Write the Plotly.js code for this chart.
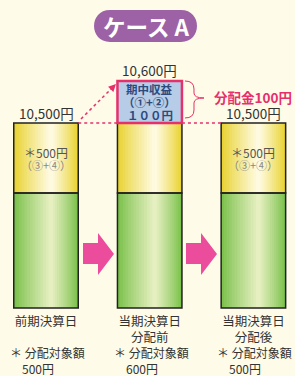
<!DOCTYPE html>
<html><head><meta charset="utf-8">
<script src="https://cdn.plot.ly/plotly-3.0.1.min.js"></script>
<style>html,body{margin:0;padding:0;background:#FEFBE8;}</style>
</head><body><div id="chart" style="width:295px;height:376px;"></div>
<script>
// ---- data ----
const categories = ['前期決算日', '当期決算日<br>分配前', '当期決算日<br>分配後'];
const principal = [10000, 10000, 10000];     // base part of NAV
const distributable = [500, 500, 500];       // ③+④
const income = [0, 100, 0];                  // ①+② 期中収益
const navLabels = ['10,500円', '10,600円', '10,500円'];
const yellowLabel = ['＊500円', '', '＊500円'];
const yellowSub = ['（③+④）', '', '（③+④）'];
const incomeLines = ['期中収益', '（①+②）', '１００円'];
const distributionLabel = '分配金100円';
const targetHead = '＊ 分配対象額';
const targetLabel = ['500円', '600円', '500円'];
const titleText = 'ケース A';

// ---- helpers ----
const xs = categories.map((_, i) => i);
const W = 0.622, N = 14, SHIFT = 0.05;
const FLOOR = 9178.6;   // schematic axis floor (bar bottoms)
const FIG_W = 295, PLOT_H = 312;
const P = (x, y) => (x / FIG_W).toFixed(4) + ',' + ((PLOT_H - y) / PLOT_H).toFixed(4);
function hex(c){return [1,3,5].map(i=>parseInt(c.substr(i,2),16));}
function mix(a,b,t){const A=hex(a),B=hex(b);return 'rgb('+A.map((v,i)=>Math.round(v+(B[i]-v)*t)).join(',')+')';}
const FONT = '"Noto Sans CJK JP", "Noto Sans", sans-serif';
const PINK = '#E6306C';

function gradient(base, len, edge, center){
  const out = [];
  for (let k = 0; k < N; k++) {
    const f = k / N, w = W * (1 - f), t = Math.pow(k / (N - 1), 0.9);
    out.push({type:'bar', x: xs, y: len, base: base, width: w, offset: -w/2 + SHIFT*f,
      marker:{color: mix(edge, center, t), line:{width:0}}, hoverinfo:'skip', showlegend:false});
  }
  return out;
}

const greenLen = principal.map(v => v - FLOOR);
const traces = [
  ...gradient(xs.map(()=>FLOOR), greenLen, '#7BC14B', '#E5EFC0'),
  ...gradient(principal, distributable, '#E9D333', '#FEFAE0'),
  {type:'bar', x: xs, y: greenLen, base: xs.map(()=>FLOOR), width: W, cliponaxis:false,
   marker:{color:'rgba(0,0,0,0)', line:{color:'#222', width:1.5}}, hoverinfo:'skip'},
  {type:'bar', x: xs, y: distributable, base: principal, width: W, cliponaxis:false,
   marker:{color:'rgba(0,0,0,0)', line:{color:'#222', width:1.5}}, hoverinfo:'skip'},
  {type:'bar', x: xs, y: income.map(v => v ? v : null), base: principal.map((p,i)=>p+distributable[i]),
   width: W, yaxis:'y2', cliponaxis:false,
   marker:{color:'#B6CCE7', line:{color:PINK, width:2.5}}, hoverinfo:'skip'}
];

const C = {xanchor:'center', yanchor:'middle', showarrow:false};
const annotations = [];
xs.forEach(i => {
  const top = principal[i] + distributable[i];
  if (income[i]) {
    annotations.push({...C, x:i, y: top + income[i], yref:'y2', text: navLabels[i],
      yanchor:'bottom', yshift:-1, font:{family:FONT, size:13.5, color:'#333'}});
    incomeLines.forEach((t, j) => annotations.push({...C, x:i, y: top + income[i]/2, yref:'y2', text:'<b>'+t+'</b>',
      yshift: 13 - 13*j, font:{family:FONT, size:11.5, color:'#2C4A7E'}}));
  } else {
    annotations.push({...C, x:i, y: top, yref:'y', text: navLabels[i],
      yanchor:'bottom', yshift:-2, font:{family:FONT, size:13.5, color:'#333'}});
    annotations.push({...C, x:i, y: principal[i] + distributable[i]/2, yref:'y', text: yellowLabel[i],
      yshift: 6, font:{family:FONT, size:12, color:'#555'}});
    annotations.push({...C, x:i, y: principal[i] + distributable[i]/2, yref:'y', text: yellowSub[i],
      yshift: -7, font:{family:FONT, size:11, color:'#888'}});
  }
  annotations.push({x:i, xref:'x', y:(PLOT_H-342)/PLOT_H, yref:'paper', showarrow:false,
    text: targetHead + '<br>\u3000' + targetLabel[i], align:'left',
    xanchor:'left', yanchor:'top', xshift:-38, font:{family:FONT, size:12, color:'#333'}});
});
// title
annotations.push({...C, x:146/FIG_W, xref:'paper', y:(PLOT_H-26)/PLOT_H, yref:'paper', text:'<b>'+titleText+'</b>',
  font:{family:FONT, size:22.5, color:'#FFFFFF'}});
// distribution label
annotations.push({...C, x:252.5/FIG_W, xref:'paper', y:(PLOT_H-97)/PLOT_H, yref:'paper', text:'<b>'+distributionLabel+'</b>',
  font:{family:FONT, size:13.5, color:PINK}});
// arrow head of dotted arrow
annotations.push({x:116/FIG_W, xref:'paper', y:(PLOT_H-84)/PLOT_H, yref:'paper', text:'', showarrow:true,
  ax:-7, ay:7, arrowhead:2, arrowsize:1, arrowwidth:1.5, arrowcolor:PINK});

const shapes = [
  // title pill
  {type:'path', xref:'paper', yref:'paper', fillcolor:'#9D62A6', line:{width:0},
   path:'M'+P(110,10)+' L'+P(181,10)+' C'+P(202.3,10)+' '+P(202.3,42)+' '+P(181,42)+' L'+P(110,42)+' C'+P(88.7,42)+' '+P(88.7,10)+' '+P(110,10)+' Z'},
  // dotted connectors at 10,500
  {type:'line', xref:'x', yref:'y', x0: W/2, x1: 1 - W/2, y0: 10500, y1: 10500, line:{color:PINK, width:1.3, dash:'dot'}},
  {type:'line', xref:'x', yref:'y', x0: 1 + W/2, x1: 2 - W/2, y0: 10500, y1: 10500, line:{color:PINK, width:1.3, dash:'dot'}},
  // dotted arrow line
  {type:'line', xref:'paper', yref:'paper', x0:81/FIG_W, y0:(PLOT_H-119)/PLOT_H, x1:111/FIG_W, y1:(PLOT_H-89)/PLOT_H,
   line:{color:PINK, width:1.5, dash:'dot'}},
  // brace
  {type:'path', xref:'paper', yref:'paper', line:{color:PINK, width:1}, 
   path:'M'+P(185,81)+' Q'+P(194,81)+' '+P(194,89)+' L'+P(194,93)+' Q'+P(194,98)+' '+P(204,98)+' Q'+P(194,98)+' '+P(194,103)+' L'+P(194,110)+' Q'+P(194,118)+' '+P(185,118)},
];
// block arrows between bars
[0, 103].forEach(dx => {
  const pts = [[83,243],[98,243],[98,233],[114,254],[98,275],[98,264],[83,264]];
  shapes.push({type:'path', xref:'paper', yref:'paper', fillcolor:'#EC4C9C', line:{width:0},
    path:'M'+pts.map(p=>P(p[0]+dx,p[1])).join(' L')+' Z'});
});

const layout = {
  width:295, height:376, margin:{l:0, r:0, t:0, b:376-PLOT_H},
  paper_bgcolor:'#FEFBE8', plot_bgcolor:'#FEFBE8',
  barmode:'overlay', showlegend:false, hovermode:false,
  xaxis:{range:[-0.4436, 2.4012], tickvals:xs, ticktext:categories, showgrid:false, zeroline:false,
    showline:false, ticks:'', tickfont:{family:FONT, size:12.5, color:'#333'}, fixedrange:true},
  yaxis:{range:[9150, 11378.57], visible:false, fixedrange:true},
  yaxis2:{range:[10050, 10792.86], overlaying:'y', visible:false, fixedrange:true},
  annotations, shapes
};
Plotly.newPlot('chart', traces, layout, {staticPlot:true, displayModeBar:false});
</script></body></html>
